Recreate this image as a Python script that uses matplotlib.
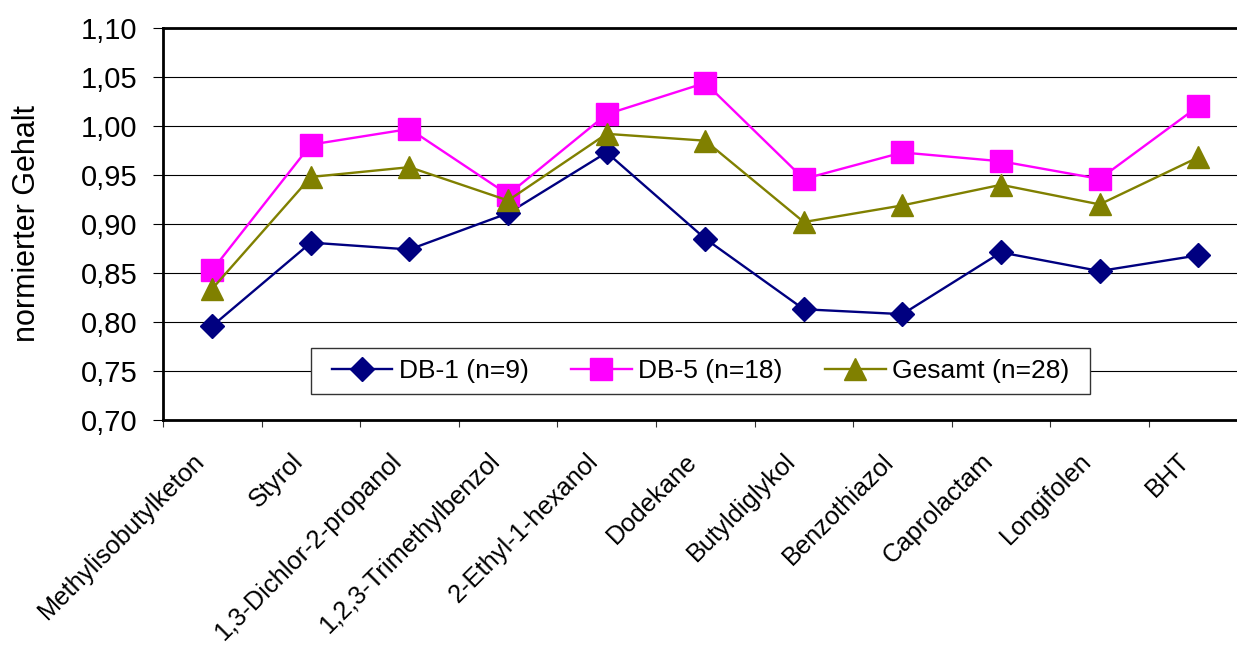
import numpy as np
import matplotlib
matplotlib.use("Agg")
import matplotlib.pyplot as plt
from matplotlib.patches import Rectangle
from matplotlib.ticker import FuncFormatter, MultipleLocator
from matplotlib.transforms import ScaledTranslation

plt.rcParams['font.family'] = ['Liberation Sans', 'DejaVu Sans']

categories = ["Methylisobutylketon", "Styrol", "1,3-Dichlor-2-propanol",
              "1,2,3-Trimethylbenzol", "2-Ethyl-1-hexanol", "Dodekane",
              "Butyldiglykol", "Benzothiazol", "Caprolactam", "Longifolen", "BHT"]
db1 = [0.796, 0.881, 0.874, 0.911, 0.973, 0.885, 0.813, 0.808, 0.871, 0.852, 0.868]
db5 = [0.853, 0.981, 0.997, 0.930, 1.012, 1.044, 0.946, 0.973, 0.964, 0.946, 1.020]
gesamt = [0.834, 0.948, 0.958, 0.924, 0.992, 0.985, 0.902, 0.919, 0.940, 0.920, 0.968]
series_names = ["DB-1 (n=9)", "DB-5 (n=18)", "Gesamt (n=28)"]

W, H = 1237, 646
fig = plt.figure(figsize=(W / 100, H / 100), dpi=100)
# axes run past the right edge of the picture, as in the original
ax = fig.add_axes([163 / W, (H - 420) / H, 1084.5 / W, 392 / H])

x = np.arange(len(categories))
ax.plot(x, db1, color="#000080", lw=1.7, marker="D", ms=12, label=series_names[0])
ax.plot(x, db5, color="#FF00FF", lw=1.7, marker="s", ms=16, label=series_names[1])
ax.plot(x, gesamt, color="#808000", lw=1.7, marker="^", ms=16, label=series_names[2])

ax.set_xlim(-0.5, len(categories) - 0.5)
ax.set_ylim(0.70, 1.10)
ax.yaxis.set_major_locator(MultipleLocator(0.05))
ax.yaxis.set_major_formatter(FuncFormatter(lambda v, p: f"{v:.2f}".replace(".", ",")))
ax.grid(axis="y", color="black", lw=0.8)
ax.set_axisbelow(True)

ax.set_xticks(np.arange(-0.5, len(categories), 1))
ax.set_xticklabels([])
ax.set_xticks(x, labels=categories, minor=True)
ax.tick_params(axis="x", which="major", length=5, width=0.8, color="#333333", direction="out")
ax.tick_params(axis="x", which="minor", length=0, pad=27, labelsize=18.3)
shift = ScaledTranslation(-12 / 100, 0, fig.dpi_scale_trans)
for lab in ax.get_xticklabels(minor=True):
    lab.set_rotation(45)
    lab.set_ha("right")
    lab.set_va("center")
    lab.set_rotation_mode("anchor")
    lab.set_transform(lab.get_transform() + shift)
ax.tick_params(axis="y", length=7, width=0.8, pad=11.5, labelsize=21)

for s in ["top", "left", "bottom"]:
    ax.spines[s].set_linewidth(2)

ax.set_ylabel("normierter Gehalt", fontsize=22)
ax.yaxis.set_label_coords(-0.112, 0.5)

leg = ax.legend(loc="center", bbox_to_anchor=(0.4956, 0.125), ncol=3, fontsize=19,
                frameon=False, borderpad=0.4, handlelength=2.3,
                handletextpad=0.25, columnspacing=1.6)
leg.set_zorder(5)

# legend frame: wider at the sides than matplotlib's uniform padding
fig.canvas.draw()
bb = leg.get_window_extent()
frame = Rectangle((bb.x0 - 10, bb.y0), bb.width + 20, bb.height, transform=None,
                  facecolor="white", edgecolor="#333333", lw=1, zorder=4.5, clip_on=False)
ax.add_artist(frame)

fig.savefig("out.png", dpi=100)
